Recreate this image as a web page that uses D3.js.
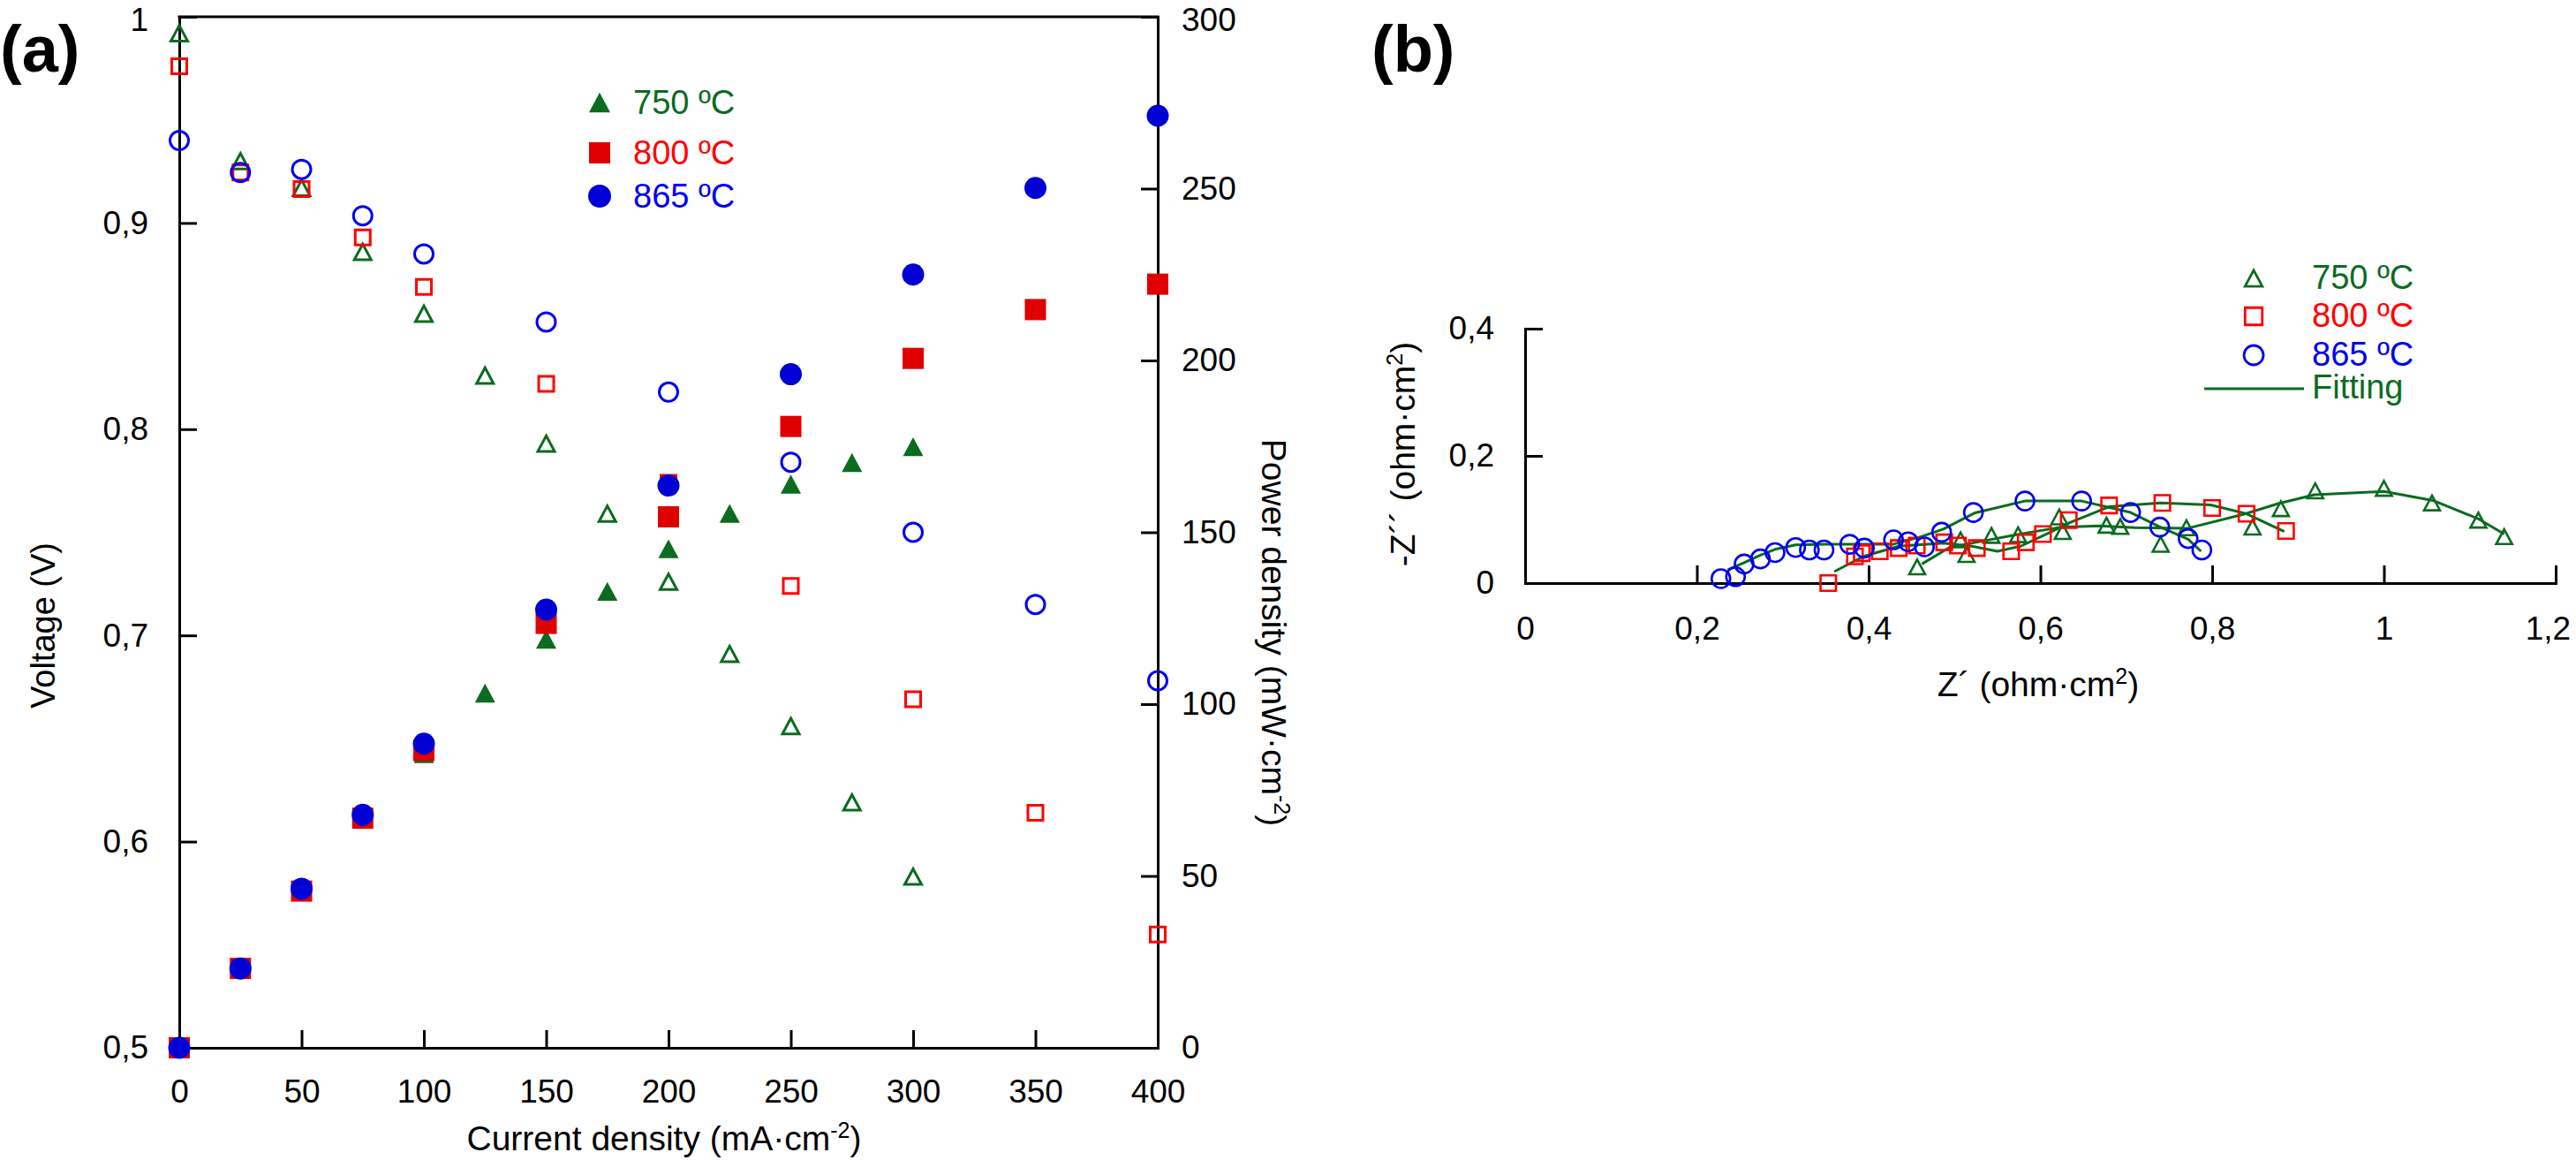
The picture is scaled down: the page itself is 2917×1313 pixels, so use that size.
<!DOCTYPE html>
<html>
<head>
<meta charset="utf-8">
<script src="https://cdn.jsdelivr.net/npm/d3@7"></script>
<style>
  body { margin: 0; background: #fff; }
  text { font-family: "Liberation Sans", Arial, Helvetica, sans-serif; }
</style>
</head>
<body>
<script>
/* DATA - panel (a), current density vs voltage / power */
const current750 = [0, 25, 50, 75, 100, 125, 150, 175, 200, 225, 250, 275, 300];
const voltage750 = [0.992, 0.930, 0.917, 0.886, 0.856, 0.826, 0.793, 0.759, 0.726, 0.691, 0.656, 0.619, 0.583];
const power750 = [0, 23.2, 45.8, 66.5, 85.6, 103.2, 118.9, 132.8, 145.2, 155.5, 164.0, 170.3, 174.9];

const current800 = [0, 25, 50, 75, 100, 150, 200, 250, 300, 350, 400];
const voltage800 = [0.976, 0.9245, 0.9165, 0.893, 0.869, 0.822, 0.774, 0.724, 0.669, 0.614, 0.555];
const power800 = [0, 23.1, 45.6, 66.8, 86.5, 123.5, 154.5, 180.8, 200.6, 214.8, 222.2];

const current865 = [0, 25, 50, 75, 100, 150, 200, 250, 300, 350, 400];
const voltage865 = [0.940, 0.9245, 0.926, 0.9035, 0.885, 0.852, 0.818, 0.784, 0.750, 0.715, 0.678];
const power865 = [0, 23.1, 46.3, 67.8, 88.5, 127.5, 163.6, 196.0, 225.0, 250.2, 271.2];

/* DATA - panel (b), impedance spectra [Z', -Z''] */
const imp750 = [[0.4565, 0.0255], [0.507, 0.068], [0.514, 0.045], [0.543, 0.075], [0.574, 0.076],
  [0.622, 0.104], [0.626, 0.081], [0.677, 0.091], [0.693, 0.089], [0.740, 0.061], [0.770, 0.087],
  [0.847, 0.088], [0.880, 0.117], [0.920, 0.145], [1.000, 0.149], [1.056, 0.126], [1.110, 0.099],
  [1.140, 0.073]];
const imp800 = [[0.353, 0.000], [0.384, 0.042], [0.392, 0.047], [0.413, 0.050], [0.435, 0.055],
  [0.456, 0.059], [0.488, 0.064], [0.504, 0.059], [0.526, 0.055], [0.566, 0.050], [0.583, 0.064],
  [0.603, 0.077], [0.633, 0.099], [0.680, 0.122], [0.742, 0.126], [0.800, 0.118], [0.840, 0.109],
  [0.886, 0.082]];
const imp865 = [[0.228, 0.007], [0.245, 0.010], [0.255, 0.030], [0.274, 0.038], [0.291, 0.048],
  [0.315, 0.056], [0.331, 0.052], [0.348, 0.052], [0.378, 0.061], [0.395, 0.055], [0.429, 0.068],
  [0.446, 0.065], [0.465, 0.057], [0.485, 0.080], [0.522, 0.111], [0.582, 0.129], [0.648, 0.129],
  [0.705, 0.111], [0.739, 0.088], [0.772, 0.070], [0.788, 0.052]];

const fit750 = [[0.462, 0.030], [0.494, 0.056], [0.521, 0.063], [0.572, 0.076], [0.624, 0.088],
  [0.668, 0.090], [0.710, 0.087], [0.771, 0.086], [0.836, 0.108], [0.877, 0.125], [0.919, 0.139],
  [1.000, 0.144], [1.057, 0.130], [1.110, 0.101], [1.140, 0.077]];
const fit800 = [[0.360, 0.018], [0.394, 0.042], [0.435, 0.058], [0.487, 0.063], [0.520, 0.058],
  [0.550, 0.050], [0.577, 0.058], [0.610, 0.079], [0.634, 0.095], [0.680, 0.120], [0.740, 0.126],
  [0.798, 0.123], [0.840, 0.109], [0.884, 0.081]];
const fit865 = [[0.236, 0.021], [0.255, 0.032], [0.274, 0.044], [0.291, 0.053], [0.315, 0.060],
  [0.350, 0.061], [0.400, 0.061], [0.428, 0.061], [0.459, 0.072], [0.487, 0.085], [0.523, 0.110],
  [0.582, 0.129], [0.648, 0.129], [0.705, 0.111], [0.738, 0.089], [0.772, 0.069], [0.787, 0.050]];

/* TICKS AND LABELS */
const currentTicks = [0, 50, 100, 150, 200, 250, 300, 350, 400];
const voltageTicks = [0.5, 0.6, 0.7, 0.8, 0.9, 1];
const powerTicks = [0, 50, 100, 150, 200, 250, 300];
const zReTicks = [0, 0.2, 0.4, 0.6, 0.8, 1, 1.2];
const zImTicks = [0, 0.2, 0.4];
const tempLabels = ["750 ºC", "800 ºC", "865 ºC"];

/* CONSTANTS */
const W = 2917, H = 1313;
const green = "#0b6b1f", red = "#ff0000", redFill = "#e00000", blue = "#0000f0", blueFill = "#0000d4";
const fontSize = 37, titleSize = 39;
const fmt = d => Number.isInteger(d) ? String(d) : String(d).replace(".", ",");

const svg = d3.select("body").append("svg")
  .attr("width", W)
  .attr("height", H);

/* SCALES */
const xA = d3.scaleLinear().domain([0, 400]).range([203, 1311]);
const yV = d3.scaleLinear().domain([0.5, 1]).range([1186, 19]);
const yP = d3.scaleLinear().domain([0, 300]).range([1186, 19]);
const xB = d3.scaleLinear().domain([0, 1.2]).range([1727, 2894]);
const yB = d3.scaleLinear().domain([0, 0.4]).range([660, 372]);

// marker shapes, drawn around (0,0)
const triPath = (w, h) => `M0,${-h / 2}L${w / 2},${h / 2}L${-w / 2},${h / 2}Z`;
const sqPath = s => `M${-s / 2},${-s / 2}h${s}v${s}h${-s}Z`;

function drawMarkers(g, pts, shape, color, filled, size, sw) {
  let sel;
  if (shape === "circle") {
    sel = g.selectAll(null).data(pts).join("circle")
      .attr("cx", d => d[0]).attr("cy", d => d[1]).attr("r", size / 2);
  } else {
    sel = g.selectAll(null).data(pts).join("path")
      .attr("transform", d => `translate(${d[0]},${d[1]})`)
      .attr("d", shape === "tri" ? triPath(size, size * 0.93) : sqPath(size));
  }
  if (filled) sel.attr("fill", color).attr("stroke", "none");
  else sel.attr("fill", "none").attr("stroke", color).attr("stroke-width", sw);
  return sel;
}

function styleAxis(g) {
  g.attr("font-size", fontSize).attr("font-family", null);
  g.select(".domain").attr("stroke-width", 3).attr("stroke-linecap", "square");
  g.selectAll(".tick line").attr("stroke-width", 3);
  g.selectAll(".tick text").attr("fill", "#000");
}

// text with a superscript part, e.g. cm-2 (raised with dy)
function supTitle(g, before, sup, after) {
  const shift = Math.round(titleSize * 0.36);
  const t = g.append("text").attr("font-size", titleSize);
  t.append("tspan").text(before);
  t.append("tspan").attr("font-size", Math.round(titleSize * 0.65)).attr("dy", -shift).text(sup);
  t.append("tspan").attr("dy", shift).text(after);
  return t;
}

/* PANEL (a) */
const gA = svg.append("g");

gA.append("g")
  .attr("transform", `translate(0,${yV.range()[0]})`)
  .call(d3.axisBottom(xA).tickValues(currentTicks).tickFormat(fmt)
    .tickSizeInner(-20).tickSizeOuter(0).tickPadding(36))
  .call(styleAxis);

const axV = gA.append("g")
  .attr("transform", `translate(${xA.range()[0]},0)`)
  .call(d3.axisLeft(yV).tickValues(voltageTicks).tickFormat(fmt)
    .tickSizeInner(-20).tickSizeOuter(0).tickPadding(35))
  .call(styleAxis);

const axP = gA.append("g")
  .attr("transform", `translate(${xA.range()[1]},0)`)
  .call(d3.axisRight(yP).tickValues(powerTicks).tickFormat(fmt)
    .tickSizeInner(-19).tickSizeOuter(0).tickPadding(27))
  .call(styleAxis);

// keep the top labels inside the page
axV.selectAll(".tick text").filter(d => d === 1).attr("dy", "0.42em");
axP.selectAll(".tick text").filter(d => d === 300).attr("dy", "0.42em");

// top border
gA.append("line")
  .attr("x1", xA.range()[0]).attr("x2", xA.range()[1])
  .attr("y1", yV.range()[1]).attr("y2", yV.range()[1])
  .attr("stroke", "#000").attr("stroke-width", 3).attr("stroke-linecap", "square");

const ptsV = (cur, vals) => cur.map((c, i) => [xA(c), yV(vals[i])]);
const ptsP = (cur, vals) => cur.map((c, i) => [xA(c), yP(vals[i])]);

const marksA = gA.append("g");
drawMarkers(marksA, ptsV(current750, voltage750), "tri", green, false, 19, 3);
drawMarkers(marksA, ptsV(current800, voltage800), "sq", red, false, 17, 3);
drawMarkers(marksA, ptsV(current865, voltage865), "circle", blue, false, 21, 3);
drawMarkers(marksA, ptsP(current750, power750), "tri", green, true, 23);
drawMarkers(marksA, ptsP(current800, power800), "sq", redFill, true, 24);
drawMarkers(marksA, ptsP(current865, power865), "circle", blueFill, true, 25);

// legend (a)
const legA = gA.append("g");
const legAColors = [green, red, blue];
const legAMarkerColors = [green, redFill, blueFill];
const legAShapes = ["tri", "sq", "circle"];
const legAYs = [116, 173, 222];
legAShapes.forEach((s, i) => {
  drawMarkers(legA, [[679, legAYs[i]]], s, legAMarkerColors[i], true, s === "circle" ? 26 : 24);
  legA.append("text")
    .attr("x", 717).attr("y", legAYs[i] + 13)
    .attr("font-size", fontSize + 1)
    .attr("fill", legAColors[i])
    .text(tempLabels[i]);
});

// axis titles (a)
gA.append("text")
  .attr("transform", "translate(62,708) rotate(-90)")
  .attr("text-anchor", "middle")
  .attr("font-size", titleSize - 1)
  .text("Voltage (V)");

supTitle(gA, "Power density (mW·cm", "-2", ")")
  .attr("transform", "translate(1429,716) rotate(90)")
  .attr("text-anchor", "middle");

supTitle(gA, "Current density (mA·cm", "-2", ")")
  .attr("x", 752).attr("y", 1302)
  .attr("text-anchor", "middle");

gA.append("text")
  .attr("x", 0).attr("y", 81)
  .attr("font-size", 74)
  .attr("font-weight", "bold")
  .text("(a)");

/* PANEL (b) */
const gB = svg.append("g");

const axZre = gB.append("g")
  .attr("transform", `translate(0,${yB.range()[0]})`)
  .call(d3.axisBottom(xB).tickValues(zReTicks).tickFormat(fmt)
    .tickSizeInner(-20).tickSizeOuter(0).tickPadding(38))
  .call(styleAxis);
// last label sits right at the page edge: pull it a little inside
axZre.selectAll(".tick text").filter(d => d === 1.2).attr("text-anchor", "end").attr("dx", "0.45em");

gB.append("g")
  .attr("transform", `translate(${xB.range()[0]},0)`)
  .call(d3.axisLeft(yB).tickValues(zImTicks).tickFormat(fmt)
    .tickSizeInner(-20).tickSizeOuter(0).tickPadding(35))
  .call(styleAxis);

const line = d3.line().x(d => xB(d[0])).y(d => yB(d[1]));
const fitsB = gB.append("g");
[fit750, fit800, fit865].forEach(f => {
  fitsB.append("path")
    .attr("d", line(f))
    .attr("fill", "none")
    .attr("stroke", green)
    .attr("stroke-width", 3)
    .attr("stroke-linejoin", "round");
});

const ptsB = arr => arr.map(d => [xB(d[0]), yB(d[1])]);
const marksB = gB.append("g");
drawMarkers(marksB, ptsB(imp750), "tri", green, false, 18, 2.6);
drawMarkers(marksB, ptsB(imp800), "sq", red, false, 17.5, 2.6);
drawMarkers(marksB, ptsB(imp865), "circle", blue, false, 21, 2.6);

// legend (b)
const legB = gB.append("g");
const legBYs = [315, 358, 402];
legAShapes.forEach((s, i) => {
  drawMarkers(legB, [[2552, legBYs[i]]], s, legAColors[i], false, s === "circle" ? 22 : 19.5, 2.8);
  legB.append("text")
    .attr("x", 2618).attr("y", legBYs[i] + 12)
    .attr("font-size", fontSize + 1)
    .attr("fill", legAColors[i])
    .text(tempLabels[i]);
});
legB.append("line")
  .attr("x1", 2496).attr("x2", 2609)
  .attr("y1", 440).attr("y2", 440)
  .attr("stroke", green).attr("stroke-width", 3);
legB.append("text")
  .attr("x", 2618).attr("y", 451)
  .attr("font-size", fontSize + 1)
  .attr("fill", green)
  .text("Fitting");

// axis titles (b)
supTitle(gB, "-Z´´ (ohm·cm", "2", ")")
  .attr("transform", "translate(1602,514) rotate(-90)")
  .attr("text-anchor", "middle");

supTitle(gB, "Z´ (ohm·cm", "2", ")")
  .attr("x", 2308).attr("y", 788)
  .attr("text-anchor", "middle");

gB.append("text")
  .attr("x", 1553).attr("y", 81)
  .attr("font-size", 74)
  .attr("font-weight", "bold")
  .text("(b)");
</script>
</body>
</html>
